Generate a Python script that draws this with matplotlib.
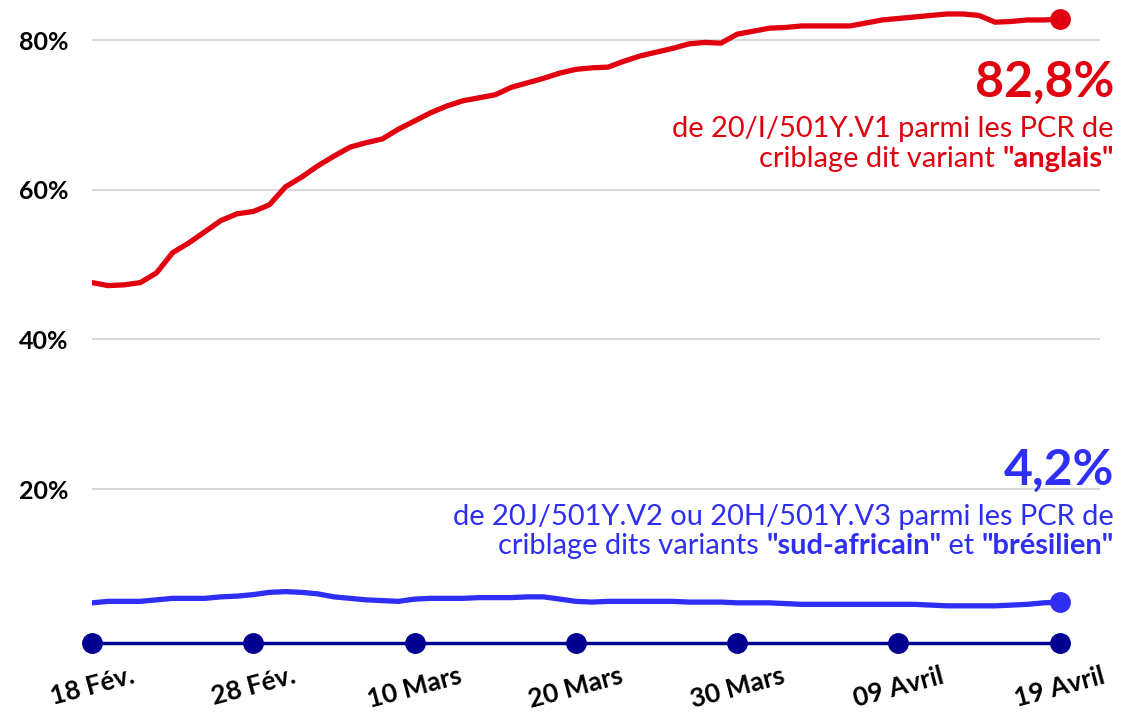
import matplotlib
matplotlib.use("Agg")
import matplotlib.pyplot as plt
from matplotlib.offsetbox import TextArea, HPacker, AnnotationBbox

# days since 18 Feb 2021 (0 .. 60 = 19 Avril)
days = list(range(61))

# share of screened PCR, %
anglais = [47.6, 47.2, 47.3, 47.6, 48.9, 51.6, 52.9, 54.4, 55.9, 56.8,
           57.1, 58.0, 60.4, 61.7, 63.2, 64.5, 65.7, 66.3, 66.8, 68.1,
           69.2, 70.3, 71.2, 71.9, 72.3, 72.7, 73.7, 74.3, 74.9, 75.6,
           76.1, 76.3, 76.4, 77.2, 77.9, 78.4, 78.9, 79.5, 79.7, 79.6,
           80.8, 81.2, 81.6, 81.7, 81.9, 81.9, 81.9, 81.9, 82.3, 82.7,
           82.9, 83.1, 83.3, 83.5, 83.5, 83.3, 82.4, 82.5, 82.7, 82.7,
           82.8]
sud_af_bres = [4.8, 5.0, 5.0, 5.0, 5.2, 5.4, 5.4, 5.4, 5.6, 5.7,
               5.9, 6.2, 6.3, 6.2, 6.0, 5.6, 5.4, 5.2, 5.1, 5.0,
               5.3, 5.4, 5.4, 5.4, 5.5, 5.5, 5.5, 5.6, 5.6, 5.3,
               5.0, 4.9, 5.0, 5.0, 5.0, 5.0, 5.0, 4.9, 4.9, 4.9,
               4.8, 4.8, 4.8, 4.7, 4.6, 4.6, 4.6, 4.6, 4.6, 4.6,
               4.6, 4.6, 4.5, 4.4, 4.4, 4.4, 4.4, 4.5, 4.6, 4.8,
               4.9]

tick_days = [0, 10, 20, 30, 40, 50, 60]
tick_labels = ["18 Fév.", "28 Fév.", "10 Mars", "20 Mars", "30 Mars", "09 Avril", "19 Avril"]
y_ticks = [20, 40, 60, 80]
y_labels = ["20%", "40%", "60%", "80%"]

RED = "#e1000f"
BLUE = "#2e2ef5"
NAVY = "#000091"
FONT = "Lato"

plt.rcParams["font.family"] = [FONT, "DejaVu Sans"]

W, H = 1127, 716
fig = plt.figure(figsize=(W / 100, H / 100), dpi=100)
# axes placed in pixels: x=0 at 92px, y=-0.5 at 642.5px from top
left, right, top, bottom = 92, 1100, 5, 642.5
ax = fig.add_axes([left / W, 1 - bottom / H, (right - left) / W, (bottom - top) / H])
ax.set_xlim(0, 62.5)
ax.set_ylim(-0.5, 84.7)

for s in ax.spines.values():
    s.set_visible(False)

for v in y_ticks:
    ax.axhline(v, color="#d9d9d9", lw=1.5, zorder=0)

ax.set_yticks(y_ticks)
ax.set_yticklabels(y_labels, fontsize=18, fontweight="bold")
ax.tick_params(axis="y", length=0, pad=17)

ax.set_xticks(tick_days)
ax.set_xticklabels(tick_labels, fontsize=19, fontweight="bold", rotation=15)
ax.tick_params(axis="x", length=0, pad=15)

# bottom axis with dots
ax.plot([tick_days[0], tick_days[-1]], [-0.5, -0.5], color=NAVY, lw=2.5, clip_on=False, zorder=3)
ax.plot(tick_days, [-0.5] * len(tick_days), "o", color=NAVY, ms=14, clip_on=False, zorder=4)

ax.plot(days, anglais, color=RED, lw=3.8, solid_joinstyle="round", zorder=5)
ax.plot(days[-1], anglais[-1], "o", color=RED, ms=14, zorder=6, clip_on=False)
ax.plot(days, sud_af_bres, color=BLUE, lw=3.8, solid_joinstyle="round", zorder=5)
ax.plot(days[-1], sud_af_bres[-1], "o", color=BLUE, ms=14, zorder=6, clip_on=False)

xr = 1114
body = 20.9


def txt(x, y, s, color, size, weight="normal"):
    fig.text(x / W, 1 - y / H, s, color=color, fontsize=size, fontweight=weight,
             ha="right", va="baseline")


def mixed(y_center, parts, color):
    areas = [TextArea(s, textprops=dict(color=color, fontsize=body,
                                        fontweight=("bold" if b else "normal")))
             for s, b in parts]
    box = HPacker(children=areas, align="baseline", pad=0, sep=0)
    ab = AnnotationBbox(box, (xr, H - y_center), xycoords="figure pixels",
                        box_alignment=(1, 0.5), frameon=False, pad=0)
    fig.add_artist(ab)


txt(xr, 97, "82,8%", RED, 36, "bold")
txt(xr, 137, "de 20/I/501Y.V1 parmi les PCR de", RED, body)
mixed(159, [("criblage dit variant ", False), ('"anglais"', True)], RED)

txt(xr, 485, "4,2%", BLUE, 36, "bold")
txt(xr, 525, "de 20J/501Y.V2 ou 20H/501Y.V3 parmi les PCR de", BLUE, body)
mixed(546, [("criblage dits variants ", False), ('"sud-africain"', True),
            (" et ", False), ('"brésilien"', True)], BLUE)

fig.savefig("out.png", dpi=100)
